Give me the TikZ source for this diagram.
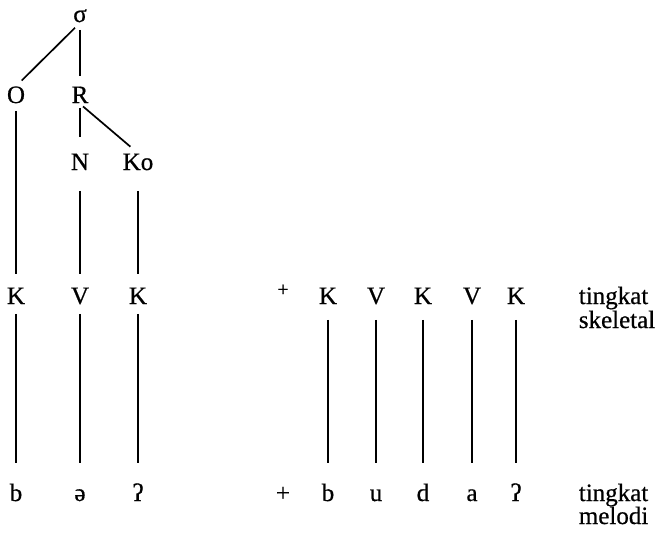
\documentclass[tikz,border=0pt]{standalone}
\usepackage{fontspec}
\setmainfont{Liberation Serif}[FakeBold=0.6]

\begin{document}
\begin{tikzpicture}[x=1pt, y=-1pt, line width=1.7pt,
    lab/.style={inner sep=0pt, text height=16pt, text depth=0pt,
      font=\fontsize{25}{25}\selectfont},
    upline/.style={shorten <=7pt, shorten >=13pt},
    downline/.style={shorten <=9pt, shorten >=21pt}]
    \useasboundingbox (0,0) rectangle (662,533);

    % 音節の木
    \node[lab] (sig) at (80, 14) {σ};
    \node[lab] (O) at (16, 95) {O};
    \node[lab] (R) at (80, 95) {R};
    \node[lab] (N) at (80, 162) {N};
    \node[lab] (Ko) at (138, 162) {Ko};

    % tingkat skeletal
    \node[lab] (K1) at (16, 296) {K};
    \node[lab] (V1) at (80, 296) {V};
    \node[lab] (K2) at (138, 296) {K};
    \node[lab, font=\fontsize{20}{20}\selectfont] (plusA) at (283, 288) {+};
    \node[lab] (K3) at (328, 296) {K};
    \node[lab] (V2) at (376, 296) {V};
    \node[lab] (K4) at (423, 296) {K};
    \node[lab] (V3) at (472, 296) {V};
    \node[lab] (K5) at (516, 296) {K};
    \node[lab, anchor=west] (skA) at (578, 296) {tingkat};
    \node[lab, anchor=west] (skB) at (578, 320) {skeletal};

    % tingkat melodi
    \node[lab] (b1) at (16, 493) {b};
    \node[lab] (e1) at (80, 493) {ə};
    \node[lab] (q1) at (138, 493) {ʔ};
    \node[lab] (plusB) at (283, 493) {+};
    \node[lab] (b2) at (328, 493) {b};
    \node[lab] (u2) at (376, 493) {u};
    \node[lab] (d2) at (423, 493) {d};
    \node[lab] (a2) at (472, 493) {a};
    \node[lab] (q2) at (516, 493) {ʔ};
    \node[lab, anchor=west] (meA) at (578, 493) {tingkat};
    \node[lab, anchor=west] (meB) at (578, 516) {melodi};

    % 線を引く
    \draw[shorten <=7pt, shorten >=8pt] (sig.south) -- (O.north);
    \draw[shorten <=7pt, shorten >=10pt] (sig.south) -- (R.north);
    \draw[shorten <=4pt, shorten >=16pt] (R.south) -- (N.north);
    \draw[shorten <=4pt, shorten >=10pt] (R.south) -- (Ko.north);
    \draw[upline] (O.south) -- (K1.north);
    \draw[upline, shorten <=20pt] (N.south) -- (V1.north);
    \draw[upline, shorten <=20pt] (Ko.south) -- (K2.north);

    \draw[downline] (K1.south) -- (b1.north);
    \draw[downline] (V1.south) -- (e1.north);
    \draw[downline] (K2.south) -- (q1.north);
    \draw[downline, shorten <=15pt] (K3.south) -- (b2.north);
    \draw[downline, shorten <=15pt] (V2.south) -- (u2.north);
    \draw[downline, shorten <=15pt] (K4.south) -- (d2.north);
    \draw[downline, shorten <=15pt] (V3.south) -- (a2.north);
    \draw[downline, shorten <=15pt] (K5.south) -- (q2.north);

  \end{tikzpicture}
\end{document}
